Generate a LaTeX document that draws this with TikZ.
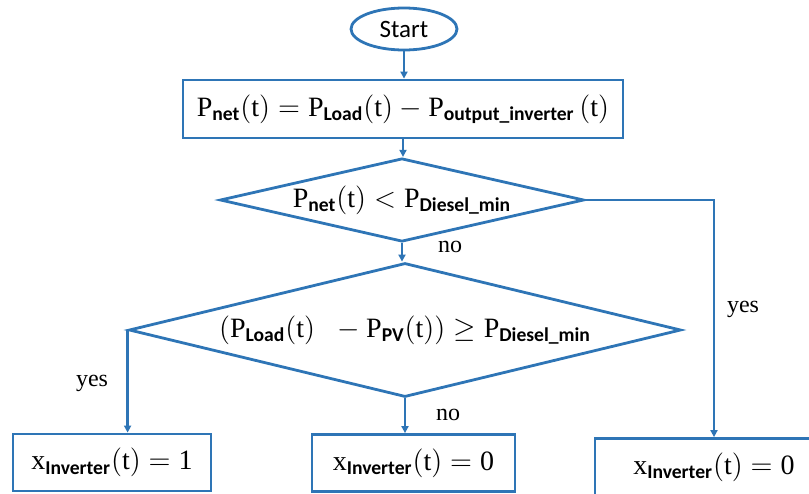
\documentclass[tikz,border=0pt]{standalone}
\usepackage{fontspec}
\setmainfont{Liberation Serif}
\setsansfont{Carlito}
\usepackage{amsmath}
\usetikzlibrary{arrows.meta,shapes.geometric}
\definecolor{flowBlue}{RGB}{46,117,182}
\newcommand{\subLbl}[1]{\textsf{\bfseries #1}}

\begin{document}
\begin{tikzpicture}
[x=0.5pt,y=-0.5pt,
  lineDecorate/.style={-{Triangle[length=3.5pt,width=3.5pt]},draw=flowBlue,line width=1.4pt},
  startDecorate/.style={shape=ellipse,draw=flowBlue,line width=1.4pt,inner sep=0pt,
    font=\sffamily\fontsize{12.5}{14}\selectfont},
  boxDecorate/.style={shape=rectangle,draw=flowBlue,line width=1.4pt,inner sep=0pt,
    font=\fontsize{14}{16}\selectfont},
  checkDecorate/.style={shape=diamond,draw=flowBlue,line width=1.4pt,inner sep=0pt,aspect=4,
    font=\fontsize{14}{16}\selectfont},
  labelDecorate/.style={inner sep=0pt,font=\fontsize{12}{14}\selectfont}]
\clip (0,0) rectangle (809,493);
%% nodes or vertices
\node (start) at (404,29) [startDecorate,minimum width=53pt,minimum height=21pt] {Start};
\node (netBox) at (403,109) [boxDecorate,minimum width=220pt,minimum height=29pt]
  {$\mathrm{P}_{\subLbl{net}}(\mathrm{t})=\mathrm{P}_{\subLbl{Load}}(\mathrm{t})-\mathrm{P}_{\subLbl{output\_inverter}}\,(\mathrm{t})$};
\node (dieselCheck) at (402,200) [checkDecorate,minimum width=182pt,minimum height=37pt]
  {$\mathrm{P}_{\subLbl{net}}(\mathrm{t})<\mathrm{P}_{\subLbl{Diesel\_min}}$};
\node (pvCheck) at (405,330) [checkDecorate,minimum width=276pt,minimum height=67pt]
  {$(\mathrm{P}_{\subLbl{Load}}(\mathrm{t})\;\;-\mathrm{P}_{\subLbl{PV}}(\mathrm{t}))\geq\mathrm{P}_{\subLbl{Diesel\_min}}$};
\foreach \nodename/\x/\y/\w/\val in {
  resOne/112/462.5/99/1, resTwo/413.5/463/101.5/0, resThree/714/467/119/0}
{
  \node (\nodename) at (\x,\y) [boxDecorate,minimum width=\w pt,minimum height=28.5pt]
    {$\mathrm{x}_{\subLbl{Inverter}}(\mathrm{t})=\mathrm{\val}$};
}
%% yes / no labels
\foreach \nodename/\x/\y/\txt in {
  noUpper/450/247/no, noLower/448/415/no, yesLeft/92/383/yes, yesRight/743/309/yes}
{
  \node (\nodename) at (\x,\y) [labelDecorate] {\txt};
}
%% edges or lines
\foreach \startnode/\endnode in {
  start/netBox, netBox/dieselCheck, dieselCheck/pvCheck, pvCheck/resTwo}
{
  \draw[lineDecorate] (\startnode.south) -- (\startnode.south |- \endnode.north);
}
\draw[lineDecorate] (pvCheck.west) -- (pvCheck.west |- resOne.north);
\draw[lineDecorate] (dieselCheck.east) -| (resThree.north);
\end{tikzpicture}
\end{document}
